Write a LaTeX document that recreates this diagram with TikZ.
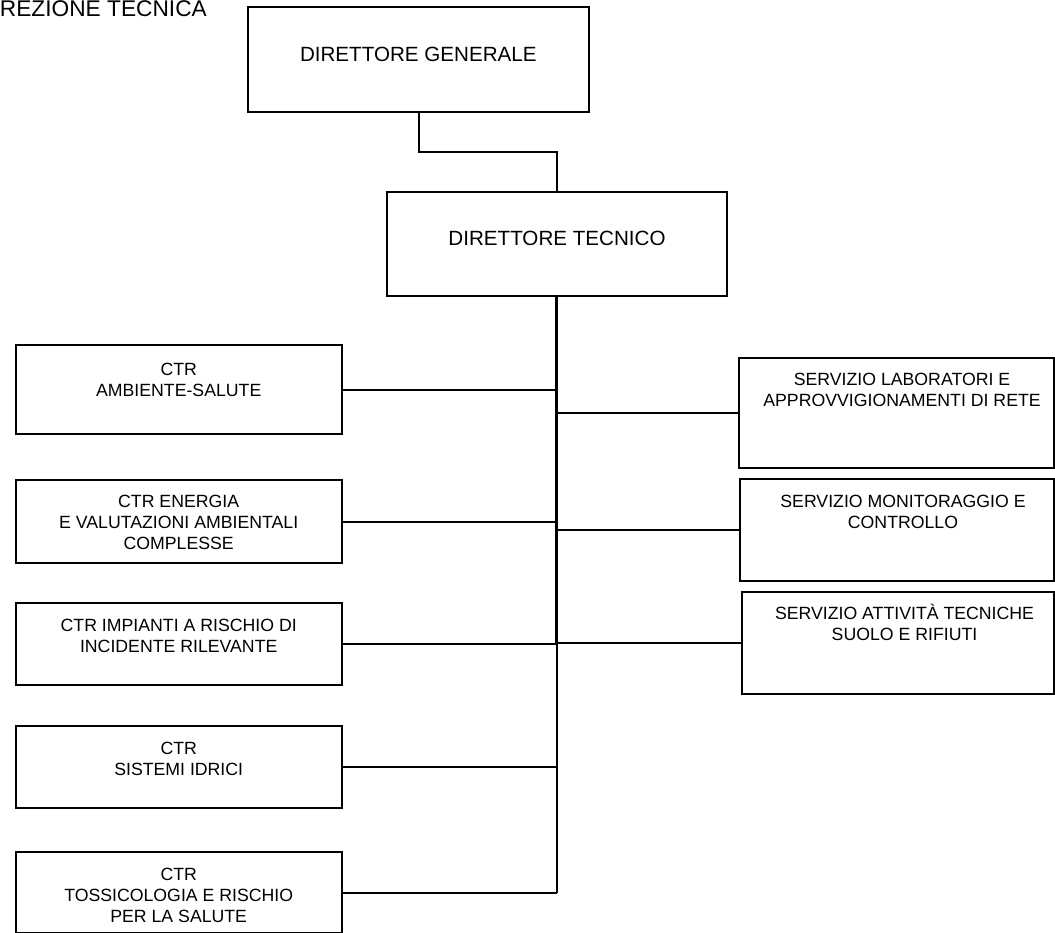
\documentclass[tikz,border=0pt]{standalone}
\usepackage{fontspec}
\setmainfont{Liberation Sans}
\begin{document}
\begin{tikzpicture}[x=1pt,y=-1pt,
  box/.style={draw, line width=2pt, anchor=north west, inner sep=0pt, outer sep=0pt},
  small/.style={font=\fontsize{17.7}{21}\selectfont, align=center, inner sep=0pt, anchor=base},
  big/.style={font=\fontsize{20.6}{24}\selectfont, align=center, inner sep=0pt, anchor=base},
  link/.style={line width=2pt},
  trunk/.style={line width=3pt}]
\useasboundingbox (0,0) rectangle (1055,932);
% title
\node[font=\fontsize{22.7}{26}\selectfont, inner sep=0pt, anchor=base east] (title) at (207,16.6) {REZIONE TECNICA};
% top boxes
\node[box, minimum width=341pt, minimum height=104.4pt] (DG) at (248,7.3) {};
\node[big] (DGt) at (418.3,61.7) {DIRETTORE GENERALE};
\node[box, minimum width=340.3pt, minimum height=104pt] (DT) at (386.7,191.7) {};
\node[big] (DTt) at (557,245) {DIRETTORE TECNICO};
% left boxes (base anchor = last line baseline)
\node[box, minimum width=326pt, minimum height=89pt] (A) at (15.7,345) {};
\node[small] (At) at (178.7,396) {CTR\\AMBIENTE-SALUTE};
\node[box, minimum width=326pt, minimum height=83pt] (E) at (15.7,480) {};
\node[small] (Et) at (178.7,549.7) {CTR ENERGIA\\E VALUTAZIONI AMBIENTALI\\COMPLESSE};
\node[box, minimum width=326pt, minimum height=82.3pt] (I) at (15.7,602.7) {};
\node[small] (It) at (178.7,652.7) {CTR IMPIANTI A RISCHIO DI\\INCIDENTE RILEVANTE};
\node[box, minimum width=326pt, minimum height=82.6pt] (S) at (15.7,725.7) {};
\node[small] (St) at (178.7,775.4) {CTR\\SISTEMI IDRICI};
\node[box, minimum width=326pt, minimum height=81pt] (T) at (15.7,852) {};
\node[small] (Tt) at (178.7,922) {CTR\\TOSSICOLOGIA E RISCHIO\\PER LA SALUTE};
% right boxes
\node[box, minimum width=314.2pt, minimum height=110pt] (R1) at (739.3,357.7) {};
\node[small] (R1t) at (902,406) {SERVIZIO LABORATORI E\\APPROVVIGIONAMENTI DI RETE};
\node[box, minimum width=313.2pt, minimum height=102pt] (R2) at (740.3,479) {};
\node[small] (R2t) at (903,528.7) {SERVIZIO MONITORAGGIO E\\CONTROLLO};
\node[box, minimum width=311.5pt, minimum height=102.6pt] (R3) at (742,591.7) {};
\node[small] (R3t) at (904.5,640.5) {SERVIZIO ATTIVITÀ TECNICHE\\SUOLO E RIFIUTI};
% connectors
\coordinate (mid) at (0,151.7);
\draw[link] (DG.south) -- (DG.south |- mid) -| (DT.north);
\coordinate (tend) at (T.east -| DT.south);
\coordinate (rend) at (R3.west -| DT.south);
\draw[link] (DT.south) -- (tend);
\draw[trunk] (DT.south) -- (rend);
\foreach \b in {A,E,I,S,T}{
  \draw[link] (\b.east) -- (\b.east -| DT.south);
}
\foreach \b in {R1,R2,R3}{
  \draw[link] (\b.west) -- (\b.west -| DT.south);
}
\end{tikzpicture}
\end{document}
